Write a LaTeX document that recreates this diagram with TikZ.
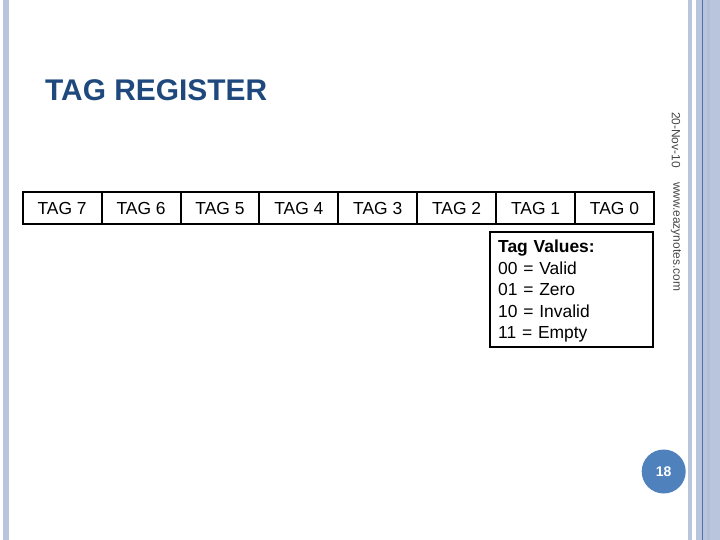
\documentclass[tikz,border=0pt]{standalone}
\usepackage{fontspec}
\setmainfont{Liberation Sans}
\usepackage{xcolor}
\usepackage{tikz}
\usetikzlibrary{positioning}

\definecolor{stripeblue}{RGB}{185,197,220}
\definecolor{bandblue}{RGB}{176,190,218}
\definecolor{lineblue}{RGB}{79,113,165}
\definecolor{titleblue}{RGB}{31,73,125}
\definecolor{pageblue}{RGB}{79,129,189}
\definecolor{footgrey}{RGB}{70,70,70}

\begin{document}
\begin{tikzpicture}[x=1bp,y=1bp,yscale=-1,xscale=1,
  tagbox/.style={draw,line width=2bp,minimum width=78.9bp,minimum height=32.6bp,inner sep=0pt,font=\fontsize{17.5}{20}\selectfont},
  valuebox/.style={draw,line width=2bp,anchor=north west,minimum width=163.3bp,text width=147bp,inner xsep=8.15bp,inner ysep=0pt,align=left,font=\fontsize{17.5}{21.6}\selectfont},
  sidetext/.style={rotate=-90,text=footgrey,inner sep=0pt,font=\fontsize{12}{14}\selectfont}]
\useasboundingbox (0,0) rectangle (720,540);

%Shape: Rectangle [left stripe]
\fill [stripeblue] (3,0) rectangle (9,540);
%Shape: Rectangle [right stripes]
\fill [stripeblue] (688,0) rectangle (692,540);
\fill [stripeblue] (696,0) rectangle (720,540);
\fill [bandblue] (707,0) rectangle (710,540);
%Straight Lines [right line]
\draw [lineblue,line width=0.6bp] (702.3,0) -- (702.3,540);

% Text Node
\draw (45,100.7) node [anchor=base west,inner sep=0pt,text=titleblue,font=\fontsize{30}{36}\selectfont\bfseries] (title) {TAG REGISTER};

%Shape: Rectangle [tag fields]
\draw (62.15,208) node [tagbox] (tag7) {TAG 7};
\draw (141.05,208) node [tagbox] (tag6) {TAG 6};
\draw (219.95,208) node [tagbox] (tag5) {TAG 5};
\draw (298.85,208) node [tagbox] (tag4) {TAG 4};
\draw (377.75,208) node [tagbox] (tag3) {TAG 3};
\draw (456.65,208) node [tagbox] (tag2) {TAG 2};
\draw (535.55,208) node [tagbox] (tag1) {TAG 1};
\draw (614.45,208) node [tagbox] (tag0) {TAG 0};

% Text Node
\draw (489,230.7) node [valuebox] (values) {\rule{0pt}{21bp}\textbf{Tag Values:}\\00 = Valid\\01 = Zero\\10 = Invalid\\11 = Empty\rule[-8.6bp]{0pt}{0pt}};

% Text Node
\draw (676,140) node [sidetext] (date) {20-Nov-10};
% Text Node
\draw (676,236.5) node [sidetext] (site) {www.eazynotes.com};

%Shape: Circle [page number]
\draw (663.7,471.5) node [circle,fill=pageblue,minimum size=44bp,inner sep=0pt,text=white,font=\fontsize{14}{16}\selectfont\bfseries] (pagenum) {18};

\end{tikzpicture}
\end{document}
